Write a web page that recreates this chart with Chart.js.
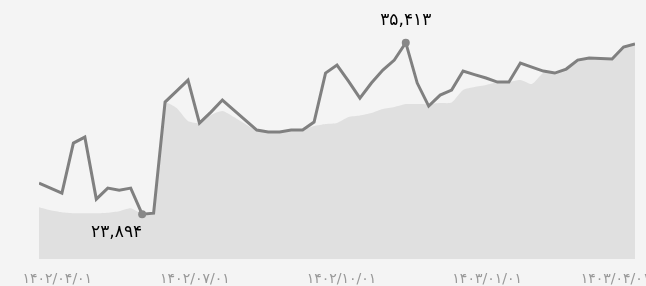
<!DOCTYPE html>
<html>
<head>
<meta charset="utf-8">
<script src="https://cdn.jsdelivr.net/npm/chart.js@4"></script>
<style>
  html, body { margin: 0; background: #f4f4f4; }
  #wrap { width: 646px; height: 286px; position: relative; }
</style>
</head>
<body>
<div id="wrap"><canvas id="chart"></canvas></div>
<script>
// weekly values
var priceValues = [
  25978, 25642, 25306, 28668, 29071, 24903, 25642, 25508, 25642, 23894,
  23961, 31425, 32165, 32904, 30013, 30752, 31559, 30887, 30215, 29542,
  29408, 29408, 29542, 29542, 30080, 33375, 33913, 32837, 31694, 32702,
  33577, 34249, 35413, 32702, 31156, 31896, 32232, 33509, 33267, 33039,
  32770, 32770, 34047, 33778, 33509, 33375, 33644, 34249, 34383, 34350,
  34316, 35123, 35325
];

var baseValues = [
  24365, 24163, 24028, 23961, 23961, 23961, 23995, 24096, 24297, 23928,
  23961, 31358, 31021, 30147, 30013, 30551, 30820, 30416, 29946, 29509,
  29408, 29408, 29475, 29576, 29811, 29946, 30013, 30416, 30517, 30685,
  30954, 31089, 31290, 31290, 31290, 31358, 31391, 32232, 32433, 32568,
  32770, 32770, 32904, 32635, 33375, 33375, 33644, 34249, 34383, 34350,
  34316, 35123, 35325
];

var tickPositions = [1.6, 13.6, 26.4, 39.1, 50.3];
var tickLabels = ['۱۴۰۲/۰۴/۰۱', '۱۴۰۲/۰۷/۰۱', '۱۴۰۲/۱۰/۰۱', '۱۴۰۳/۰۱/۰۱', '۱۴۰۳/۰۴/۰۱'];

var yMin = 20868;
var yMax = 37611;

function toPersian(n) {
  return n.toLocaleString('en-US').replace(/\d/g, function (d) { return '۰۱۲۳۴۵۶۷۸۹'[d]; });
}

var iMax = priceValues.indexOf(Math.max.apply(null, priceValues));
var iMin = priceValues.indexOf(Math.min.apply(null, priceValues));

var markerRadius = priceValues.map(function (v, i) { return (i === iMax || i === iMin) ? 4 : 0; });

// min / max captions
var extremesLabels = {
  id: 'extremesLabels',
  afterDatasetsDraw: function (chart) {
    var ctx = chart.ctx;
    var pts = chart.getDatasetMeta(0).data;
    ctx.save();
    ctx.fillStyle = '#000';
    ctx.font = '17px "DejaVu Sans"';
    ctx.textBaseline = 'middle';
    ctx.textAlign = 'center';
    ctx.fillText(toPersian(priceValues[iMax]), pts[iMax].x, pts[iMax].y - 22);
    ctx.textAlign = 'right';
    ctx.fillText(toPersian(priceValues[iMin]), pts[iMin].x, pts[iMin].y + 18);
    ctx.restore();
  }
};

new Chart(document.getElementById('chart'), {
  type: 'line',
  data: {
    datasets: [
      {
        data: priceValues.map(function (v, i) { return { x: i, y: v }; }),
        borderColor: '#808080',
        borderWidth: 3,
        pointRadius: markerRadius,
        pointBackgroundColor: '#888',
        pointBorderWidth: 0,
        tension: 0,
        fill: false
      },
      {
        data: baseValues.map(function (v, i) { return { x: i, y: v }; }),
        borderWidth: 0,
        borderColor: 'rgba(0,0,0,0)',
        backgroundColor: '#e0e0e0',
        pointRadius: 0,
        tension: 0.2,
        fill: 'start'
      }
    ]
  },
  options: {
    responsive: true,
    maintainAspectRatio: false,
    animation: false,
    layout: { padding: { left: 39, right: 11, top: 10, bottom: -14 } },
    plugins: { legend: { display: false }, tooltip: { enabled: false } },
    scales: {
      x: {
        type: 'linear',
        min: 0,
        max: priceValues.length - 1,
        grid: { display: false, drawTicks: false },
        border: { display: false },
        afterBuildTicks: function (scale) {
          scale.ticks = tickPositions.map(function (v) { return { value: v }; });
        },
        afterFit: function (scale) {
          scale.paddingLeft = 0;
          scale.paddingRight = 0;
        },
        ticks: {
          autoSkip: false,
          maxRotation: 0,
          padding: 12,
          color: '#999',
          font: { family: 'DejaVu Sans', size: 14 },
          callback: function (v, i) { return tickLabels[i]; }
        }
      },
      y: {
        display: false,
        min: yMin,
        max: yMax
      }
    }
  },
  plugins: [extremesLabels]
});
</script>
</body>
</html>
